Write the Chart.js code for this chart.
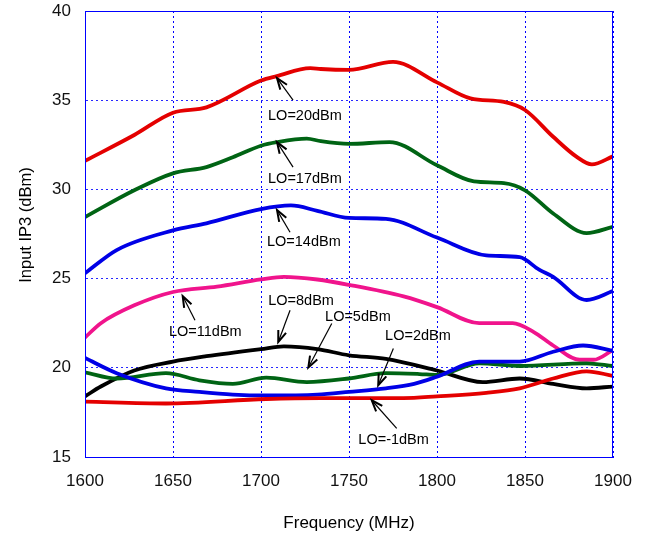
<!DOCTYPE html>
<html>
<head>
<meta charset="utf-8">
<script src="https://cdn.jsdelivr.net/npm/chart.js@4/dist/chart.umd.min.js"></script>
<style>
    html, body { margin: 0; padding: 0; background: #fff; }
    #wrap { width: 649px; height: 538px; }
</style>
</head>
<body>
<div id="wrap"><canvas id="chart" width="649" height="538"></canvas></div>
<script>
// values (MHz, dBm)
const lo20Freq = [1600, 1628, 1650, 1669, 1700, 1709, 1728, 1734, 1750, 1775, 1800, 1819, 1838, 1850, 1866, 1879, 1888, 1900];
const lo20 = [31.6, 33.05, 34.3, 34.6, 36.1, 36.35, 36.8, 36.75, 36.7, 37.15, 36.0, 35.1, 34.9, 34.45, 32.95, 31.85, 31.4, 31.85];

const lo17Freq = [1600, 1628, 1650, 1669, 1684, 1700, 1709, 1726, 1734, 1750, 1773, 1800, 1821, 1838, 1850, 1866, 1885, 1900];
const lo17 = [28.45, 29.95, 30.9, 31.25, 31.8, 32.45, 32.65, 32.85, 32.7, 32.55, 32.65, 31.35, 30.45, 30.35, 29.95, 28.65, 27.55, 27.9];

const lo14Freq = [1600, 1618, 1650, 1669, 1700, 1717, 1732, 1750, 1771, 1800, 1828, 1847, 1858, 1866, 1885, 1900];
const lo14 = [25.3, 26.6, 27.7, 28.1, 28.9, 29.1, 28.8, 28.4, 28.35, 27.3, 26.3, 26.2, 25.5, 25.1, 23.8, 24.3];

const lo11Freq = [1600, 1609, 1628, 1650, 1675, 1700, 1713, 1732, 1750, 1781, 1800, 1824, 1843, 1855, 1866, 1881, 1889, 1900];
const lo11 = [21.7, 22.5, 23.5, 24.25, 24.55, 24.95, 25.1, 24.95, 24.65, 24.0, 23.4, 22.5, 22.5, 22.0, 21.25, 20.45, 20.45, 21.0];

const lo8Freq = [1600, 1609, 1628, 1650, 1669, 1700, 1713, 1732, 1750, 1771, 1800, 1826, 1847, 1866, 1885, 1900];
const lo8 = [18.4, 18.95, 19.85, 20.35, 20.65, 21.05, 21.2, 21.05, 20.7, 20.5, 19.85, 19.2, 19.4, 19.1, 18.85, 18.95];

const lo5Freq = [1600, 1618, 1646, 1665, 1684, 1703, 1726, 1750, 1771, 1790, 1800, 1824, 1847, 1885, 1900];
const lo5 = [19.75, 19.4, 19.7, 19.3, 19.1, 19.45, 19.2, 19.4, 19.7, 19.65, 19.6, 20.25, 20.1, 20.25, 20.1];

const lo2Freq = [1600, 1618, 1646, 1665, 1684, 1703, 1732, 1750, 1771, 1787, 1800, 1824, 1847, 1866, 1883, 1900];
const lo2 = [20.55, 19.7, 18.85, 18.65, 18.5, 18.45, 18.5, 18.65, 18.85, 19.1, 19.5, 20.35, 20.35, 20.9, 21.25, 20.95];

const loM1Freq = [1600, 1646, 1703, 1734, 1781, 1800, 1828, 1847, 1866, 1885, 1900];
const loM1 = [18.1, 18.0, 18.25, 18.3, 18.3, 18.4, 18.6, 18.85, 19.4, 19.8, 19.55];

const xTicks = [1600, 1650, 1700, 1750, 1800, 1850, 1900];
const yTicks = [15, 20, 25, 30, 35, 40];

// callout labels: text position, arrow tail and arrow tip (in data units)
const labelText = ['LO=20dBm', 'LO=17dBm', 'LO=14dBm', 'LO=11dBm', 'LO=8dBm', 'LO=5dBm', 'LO=2dBm', 'LO=-1dBm'];
const labelAt = [[1704, 34.1], [1704, 30.58], [1703.4, 27.04], [1647.7, 22.0], [1704.1, 23.75], [1736.4, 22.85], [1770.5, 21.77], [1755.3, 15.98]];
const arrowTail = [[1718.2, 35.0], [1718.2, 31.25], [1716.5, 27.6], [1662.5, 22.67], [1716.5, 23.23], [1740.2, 22.48], [1775.2, 21.08], [1777.1, 16.6]];
const arrowTip = [[1709.1, 36.24], [1709.1, 32.65], [1709.1, 28.84], [1655.5, 24.02], [1709.8, 21.45], [1726.9, 20.02], [1766.6, 19.02], [1762.9, 18.18]];

const FONT = '"Liberation Sans", Arial, sans-serif';
const RED = 'rgb(228,0,0)';
const GREEN = 'rgb(0,100,20)';
const BLUE = 'rgb(0,0,230)';
const PINK = 'rgb(240,20,140)';
const GRID = 'rgb(40,40,255)';

function pts(xs, ys) {
    return xs.map((x, i) => ({ x: x, y: ys[i] }));
}

function series(label, xs, ys, color) {
    return {
        label: label,
        data: pts(xs, ys),
        borderColor: color,
        backgroundColor: color,
        borderWidth: 3.8,
        pointRadius: 0,
        tension: 0.4,
        cubicInterpolationMode: 'monotone',
        fill: false,
    };
}

// no automatic padding for overhanging tick labels
function noPad(s) {
    s.paddingTop = 0;
    s.paddingBottom = 0;
    s.paddingLeft = 0;
    s.paddingRight = 0;
}

const calloutPlugin = {
    id: 'callouts',
    afterDatasetsDraw(chart) {
        const ctx = chart.ctx;
        const xs = chart.scales.x;
        const ys = chart.scales.y;
        const a = chart.chartArea;

        ctx.save();
        // solid frame round the plot
        ctx.strokeStyle = 'rgb(0,0,255)';
        ctx.lineWidth = 1;
        ctx.setLineDash([]);
        ctx.strokeRect(a.left + 0.5, a.top + 0.5, a.right - a.left - 1, a.bottom - a.top);

        ctx.fillStyle = '#000';
        ctx.strokeStyle = '#000';
        ctx.font = '14.5px ' + FONT;
        ctx.textAlign = 'left';
        ctx.textBaseline = 'middle';
        labelText.forEach((t, i) => {
            ctx.fillText(t, xs.getPixelForValue(labelAt[i][0]), ys.getPixelForValue(labelAt[i][1]));

            const x0 = xs.getPixelForValue(arrowTail[i][0]);
            const y0 = ys.getPixelForValue(arrowTail[i][1]);
            const x1 = xs.getPixelForValue(arrowTip[i][0]);
            const y1 = ys.getPixelForValue(arrowTip[i][1]);
            ctx.lineWidth = 1.2;
            ctx.beginPath();
            ctx.moveTo(x0, y0);
            ctx.lineTo(x1, y1);
            ctx.stroke();
            const ang = Math.atan2(y1 - y0, x1 - x0);
            const len = 12;
            ctx.lineWidth = 2;
            ctx.beginPath();
            ctx.moveTo(x1 - len * Math.cos(ang - 0.35), y1 - len * Math.sin(ang - 0.35));
            ctx.lineTo(x1, y1);
            ctx.lineTo(x1 - len * Math.cos(ang + 0.35), y1 - len * Math.sin(ang + 0.35));
            ctx.stroke();
        });

        // axis titles
        ctx.font = '17px ' + FONT;
        ctx.textAlign = 'center';
        ctx.textBaseline = 'middle';
        ctx.fillText('Frequency (MHz)', (a.left + a.right) / 2, 523);
        ctx.translate(26, 225);
        ctx.rotate(-Math.PI / 2);
        ctx.font = '16.5px ' + FONT;
        ctx.fillText('Input IP3 (dBm)', 0, 0);
        ctx.restore();
    }
};

new Chart(document.getElementById('chart'), {
    type: 'line',
    data: {
        datasets: [
            series('LO=-1dBm', loM1Freq, loM1, RED),
            series('LO=2dBm', lo2Freq, lo2, BLUE),
            series('LO=5dBm', lo5Freq, lo5, GREEN),
            series('LO=8dBm', lo8Freq, lo8, '#000'),
            series('LO=11dBm', lo11Freq, lo11, PINK),
            series('LO=14dBm', lo14Freq, lo14, BLUE),
            series('LO=17dBm', lo17Freq, lo17, GREEN),
            series('LO=20dBm', lo20Freq, lo20, RED),
        ],
    },
    options: {
        responsive: false,
        animation: false,
        layout: { padding: { top: 11, right: 36, left: 0, bottom: 0 } },
        plugins: {
            legend: { display: false },
            tooltip: { enabled: false },
        },
        scales: {
            x: {
                type: 'linear',
                min: xTicks[0],
                max: xTicks[xTicks.length - 1],
                afterBuildTicks: (s) => { s.ticks = xTicks.map(v => ({ value: v })); },
                afterFit: (s) => { s.height = 81; noPad(s); },
                grid: { color: 'rgb(0,0,255)', lineWidth: 1, drawTicks: false },
                border: { color: 'rgb(0,0,255)', dash: [2, 3] },
                ticks: { color: '#111', font: { family: FONT, size: 17 }, padding: 14, maxRotation: 0, callback: (v) => String(v) },
            },
            y: {
                type: 'linear',
                min: yTicks[0],
                max: yTicks[yTicks.length - 1],
                afterBuildTicks: (s) => { s.ticks = yTicks.map(v => ({ value: v })); },
                afterFit: (s) => { s.width = 85; noPad(s); },
                grid: { color: GRID, lineWidth: 1, drawTicks: false },
                border: { color: GRID, dash: [2, 3] },
                ticks: { color: '#111', font: { family: FONT, size: 17 }, padding: 14, callback: (v) => String(v) },
            },
        },
    },
    plugins: [calloutPlugin],
});
</script>
</body>
</html>
